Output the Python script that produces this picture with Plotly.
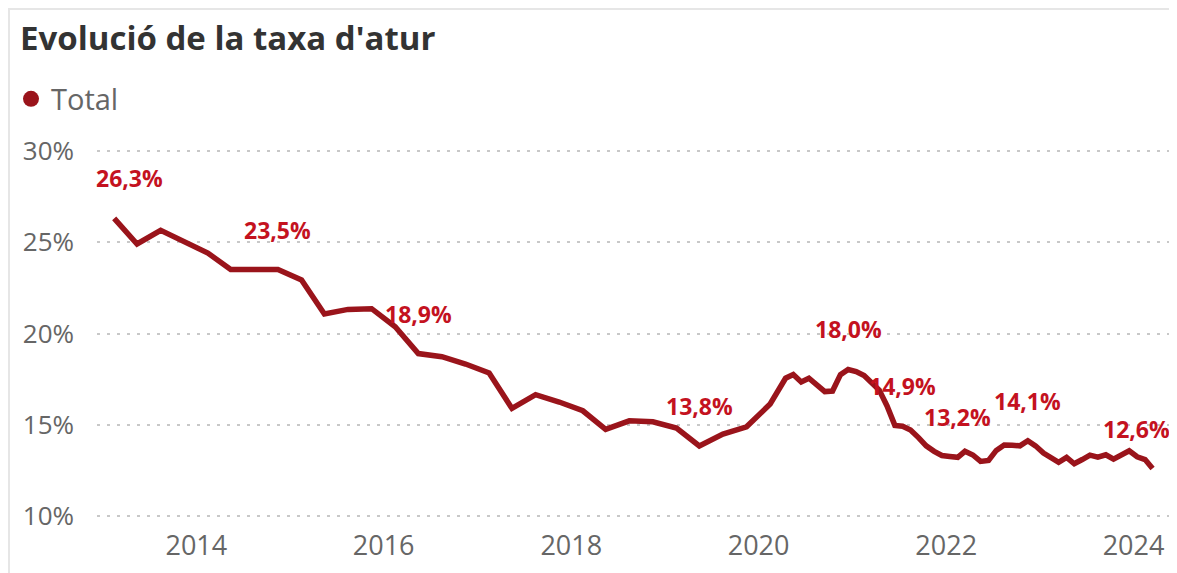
import plotly.graph_objects as go

# ---------------- data ----------------
# quarterly observations (mid-quarter dates), 2013Q1 - 2019Q4
quarter_periods = [f"{y}-{m:02d}-15" for y in range(2013, 2020) for m in (2, 5, 8, 11)]
quarter_values = [
    26.3, 24.9, 25.65, 25.05,
    24.4, 23.5, 23.52, 23.5,
    22.93, 21.07, 21.32, 21.36,
    20.37, 18.9, 18.73, 18.33,
    17.84, 15.9, 16.65, 16.25,
    15.77, 14.75, 15.22, 15.17,
    14.82, 13.84, 14.49, 14.89,
]
# monthly observations, Feb 2020 - Mar 2024
month_periods = ([f"2020-{m:02d}-15" for m in range(2, 13)]
                 + [f"{y}-{m:02d}-15" for y in (2021, 2022, 2023) for m in range(1, 13)]
                 + [f"2024-{m:02d}-15" for m in (1, 2, 3)])
month_values = [
    16.14, 16.85, 17.55, 17.75, 17.35, 17.55, 17.15, 16.82, 16.85, 17.75, 18.03,
    17.92, 17.7, 17.36, 16.9, 16.05, 14.97, 14.92, 14.72, 14.3, 13.85, 13.55, 13.32,
    13.27, 13.22, 13.55, 13.35, 13.0, 13.05, 13.6, 13.9, 13.88, 13.85, 14.13, 13.85,
    13.45, 13.15, 12.95, 13.22, 12.87, 13.1, 13.34, 13.23, 13.36, 13.12, 13.35, 13.58,
    13.25, 13.1, 12.61,
]
dates = quarter_periods + month_periods
values = quarter_values + month_values

label_dates = ["2013-02-15", "2014-11-15", "2016-05-15", "2019-05-15", "2020-12-15",
               "2021-07-15", "2022-02-15", "2022-11-15", "2024-03-15"]

series_name = "Total"
title_text = "Evolució de la taxa d'atur"
y_ticks = [10, 15, 20, 25, 30]
y_tick_labels = ["10%", "15%", "20%", "25%", "30%"]

# ---------------- styling ----------------
OFF = 8                      # default page (body) margin of the html page
W, H = 1177 - OFF, 573 - OFF
# plot area in page pixels: x 97..1170, y 149..518
ML, MR, MT, MB = 97 - OFF, 1177 - 1170, 149 - OFF, 573 - 518
LINE = "#9A141B"
LABEL = "#C4121F"
FONT = "Open Sans, Noto Sans, sans-serif"

fig = go.Figure()
fig.add_trace(go.Scatter(x=dates, y=values, mode="lines", name=series_name,
                         line=dict(color=LINE, width=5.5), showlegend=False,
                         hoverinfo="x+y"))
fig.add_trace(go.Scatter(x=[None], y=[None], mode="markers", name=series_name,
                         marker=dict(color=LINE, size=22), showlegend=True))

lookup = dict(zip(dates, values))
xshifts = {label_dates[0]: 15, label_dates[-1]: -16}
for d in label_dates:
    v = lookup[d]
    fig.add_annotation(x=d, y=v, text=f"<b>{v:.1f}".replace(".", ",") + "%</b>",
                       showarrow=False, yshift=40, xshift=xshifts.get(d, 0),
                       font=dict(family=FONT, size=23, color=LABEL))

pw = W - ML - MR
ph = H - MT - MB
def px(xpage):
    return (xpage - OFF - ML) / pw
def py(ypage):
    return (H - MB - (ypage - OFF)) / ph

# visual border
fig.add_shape(type="rect", xref="paper", yref="paper",
              x0=px(9), x1=px(1200), y0=py(600), y1=py(9),
              line=dict(color="#E6E6E6", width=2), fillcolor="rgba(0,0,0,0)", layer="below")

fig.update_layout(
    width=W, height=H,
    margin=dict(l=ML, r=MR, t=MT, b=MB, autoexpand=False),
    paper_bgcolor="white", plot_bgcolor="white",
    font=dict(family=FONT, color="#666666"),
    title=dict(text=f"<b>{title_text}</b>", xref="container", yref="container",
               x=(20 - OFF) / W, xanchor="left", y=1 - (38 - OFF) / H, yanchor="middle",
               font=dict(family=FONT, size=33, color="#333333")),
    showlegend=True,
    legend=dict(orientation="h", x=px(OFF + 3), xanchor="left", y=py(99), yanchor="middle",
                font=dict(family=FONT, size=29, color="#666666"),
                bgcolor="rgba(0,0,0,0)", itemclick=False),
    xaxis=dict(type="date", range=["2012-12-10", "2024-05-22"],
               tick0="2014-01-01", dtick="M24", tickformat="%Y",
               showgrid=False, zeroline=False, showline=False,
               ticks="", ticklabelstandoff=9,
               tickfont=dict(family=FONT, size=27, color="#666666")),
    yaxis=dict(range=[9.9, 30.1], tickvals=y_ticks, ticktext=y_tick_labels,
               showgrid=True, gridcolor="#C8C8C8", gridwidth=1.5, griddash="3px,7px",
               zeroline=False, showline=False, ticks="", ticklabelstandoff=22,
               tickfont=dict(family=FONT, size=26, color="#666666")),
)

fig.write_html("out.html")
